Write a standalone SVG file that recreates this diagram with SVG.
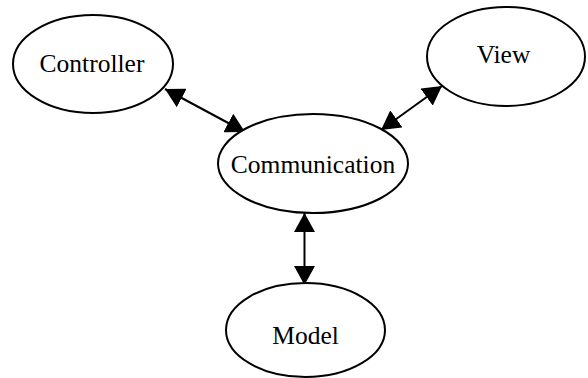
<svg xmlns="http://www.w3.org/2000/svg" width="588" height="378" viewBox="0 0 588 378">
<style>
.node ellipse{fill:#fff;stroke:#000;stroke-width:2}
.node text{font-family:"Liberation Serif","Times New Roman",serif;font-size:25.5px;fill:#000;text-anchor:middle}
.edge{stroke:#000;stroke-width:2;fill:none;marker-start:url(#ah);marker-end:url(#ah)}
</style>
<defs>
<marker id="ah" viewBox="0 0 19 21" refX="19" refY="10.5" markerWidth="19" markerHeight="21" markerUnits="userSpaceOnUse" orient="auto-start-reverse">
<path d="M0,0 L19,10.5 L0,21 z" fill="#000"/>
</marker>
</defs>
<rect width="588" height="378" fill="#fff"/>
<g id="connectors">
<path class="edge" d="M165,89 L245,132"/>
<path class="edge" d="M442,86 L381,130"/>
<path class="edge" d="M304.5,213 L304.5,285"/>
</g>
<g id="controller" class="node">
<ellipse cx="93" cy="64" rx="80" ry="49"/>
<text x="92" y="72">Controller</text>
</g>
<g id="view" class="node">
<ellipse cx="506" cy="56.5" rx="79" ry="49.5"/>
<text x="503.5" y="63">View</text>
</g>
<g id="communication" class="node">
<ellipse cx="313" cy="163.5" rx="95" ry="49.5"/>
<text x="313" y="172.5">Communication</text>
</g>
<g id="model" class="node">
<ellipse cx="305.5" cy="330" rx="79.5" ry="47"/>
<text x="305.5" y="344">Model</text>
</g>
</svg>
